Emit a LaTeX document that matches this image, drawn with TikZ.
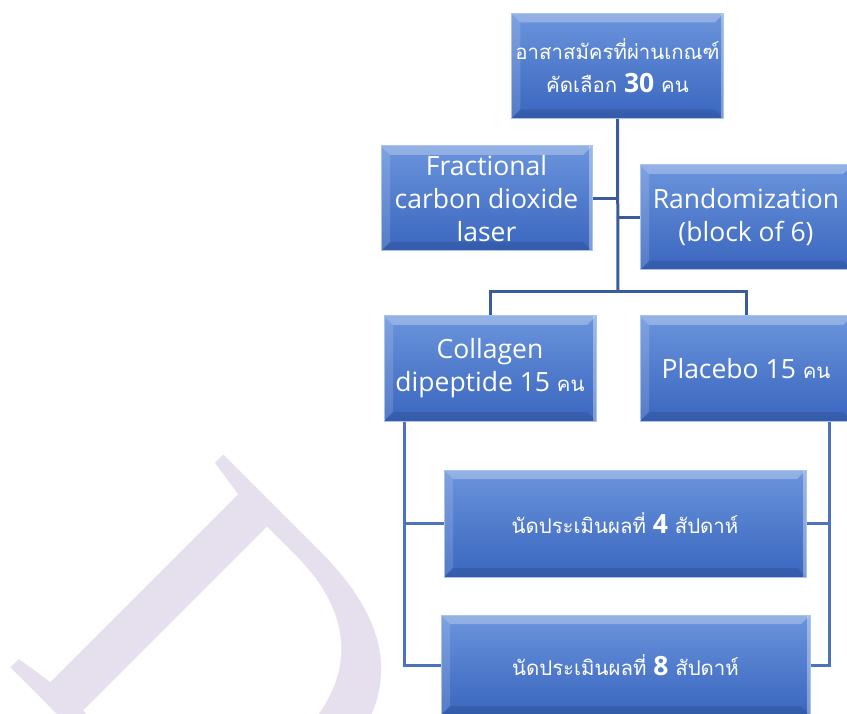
\documentclass[tikz,border=0pt]{standalone}
\usepackage{fontspec}
\setmainfont{Open Sans}
\newfontfamily\thaifont[Script=Thai,Scale=0.77]{Loma}
\newfontfamily\markfont{Liberation Serif}
\usetikzlibrary{positioning,calc}
\definecolor{boxtop}{HTML}{6A94DB}
\definecolor{boxbot}{HTML}{3A66BF}
\definecolor{boxrim}{HTML}{A8C3EE}
\definecolor{linedark}{HTML}{3A5C9C}
\definecolor{linelight}{HTML}{4E73BE}
\definecolor{markcol}{HTML}{E6DFEE}
\newcommand{\thai}[1]{{\thaifont #1}}
\newcommand{\bevel}{%
 \fill[white,opacity=.28] (path picture bounding box.north west) -- (path picture bounding box.north east) -- ([shift={(-9pt,-9pt)}]path picture bounding box.north east) -- ([shift={(9pt,-9pt)}]path picture bounding box.north west) -- cycle;
 \fill[white,opacity=.14] (path picture bounding box.north west) -- ([shift={(9pt,-9pt)}]path picture bounding box.north west) -- ([shift={(9pt,9pt)}]path picture bounding box.south west) -- (path picture bounding box.south west) -- cycle;
 \fill[black,opacity=.10] (path picture bounding box.south west) -- ([shift={(9pt,9pt)}]path picture bounding box.south west) -- ([shift={(-9pt,9pt)}]path picture bounding box.south east) -- (path picture bounding box.south east) -- cycle;
 \fill[white,opacity=.35] ([xshift=-3pt]path picture bounding box.north east) rectangle (path picture bounding box.south east);}

\begin{document}
\begin{tikzpicture}[x=1pt,y=-1pt,line width=3pt,
 stepbox/.style={rectangle,top color=boxtop,bottom color=boxbot,draw=boxrim,line width=1pt,
  minimum width=211pt,minimum height=105pt,inner sep=4pt,align=center,text=white,
  font=\fontsize{26.5}{33}\selectfont,path picture={\bevel}},
 link/.style={draw=linedark,line width=3pt},
 sublink/.style={draw=linelight,line width=3pt}]
\useasboundingbox (0,0) rectangle (847,714);
% watermark
\node[rotate=-45,text=markcol,font=\markfont\fontsize{460}{460}\selectfont] (mark) at (225,670) {D};
% boxes
\node[stepbox] (screen) at (617.5,66) {\thai{อาสาสมัครที่ผ่านเกณฑ์}\\\thai{คัดเลือก} {\bfseries 30} \thai{คน}};
\node[stepbox] (laser) at (486.5,198.5) {Fractional\\carbon dioxide\\laser};
\node[stepbox,minimum width=212pt] (random) at (746,217.5) {Randomization\\(block of 6)};
\node[stepbox,minimum width=212pt] (collagen) at (490,368.5) {Collagen\\dipeptide 15 \thai{คน}};
\node[stepbox,minimum width=212pt] (placebo) at (746,368.5) {Placebo 15 \thai{คน}};
\node[stepbox,minimum width=362pt,minimum height=107pt] (week4) at (625,523.5) {\thai{นัดประเมินผลที่} {\bfseries 4} \thai{สัปดาห์}};
\node[stepbox,minimum width=369pt,minimum height=100pt] (week8) at (625.5,665) {\thai{นัดประเมินผลที่} {\bfseries 8} \thai{สัปดาห์}};
\coordinate (split) at (618,292);
% connectors
\draw[link] (screen.south) -- (split);
\draw[link] (laser.east) -- (laser.east -| screen.south);
\draw[link] (random.west) -- (random.west -| screen.south);
\draw[link] (collagen.north) |- (split) -| (placebo.north);
\draw[sublink] ([xshift=21pt]collagen.south west) |- (week4.west);
\draw[sublink] ([xshift=21pt]collagen.south west) |- (week8.west);
\draw[sublink] ([xshift=-23pt]placebo.south east) |- (week4.east);
\draw[sublink] ([xshift=-23pt]placebo.south east) |- (week8.east);
\end{tikzpicture}
\end{document}
